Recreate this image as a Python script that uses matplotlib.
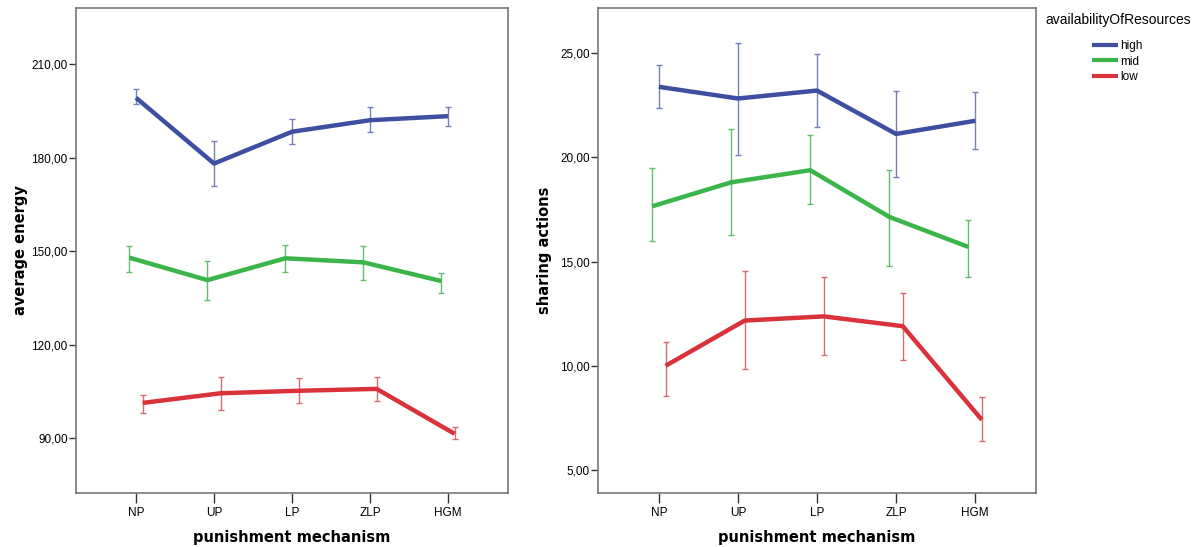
import matplotlib

matplotlib.use("Agg", force=True)
import matplotlib.pyplot as plt
from matplotlib.ticker import FuncFormatter

mechanisms = ["NP", "UP", "LP", "ZLP", "HGM"]
levels = ["high", "mid", "low"]

# average energy (left panel): mean, upper error, lower error
energy_high = [199.2, 178.1, 188.3, 192.0, 193.3]
energy_high_hi = [201.9, 185.3, 192.4, 196.1, 196.3]
energy_high_lo = [197.1, 170.9, 184.3, 188.1, 190.2]
energy_mid = [147.9, 140.7, 147.7, 146.4, 140.4]
energy_mid_hi = [151.6, 146.9, 151.9, 151.7, 142.9]
energy_mid_lo = [143.4, 134.3, 143.3, 140.7, 136.7]
energy_low = [101.3, 104.4, 105.2, 105.8, 91.4]
energy_low_hi = [103.8, 109.7, 109.2, 109.6, 93.7]
energy_low_lo = [98.2, 99.0, 101.2, 102.0, 89.7]

# sharing actions (right panel)
share_high = [23.38, 22.82, 23.20, 21.12, 21.75]
share_high_hi = [24.41, 25.50, 24.96, 23.19, 23.14]
share_high_lo = [22.35, 20.11, 21.44, 19.07, 20.40]
share_mid = [17.65, 18.80, 19.38, 17.14, 15.70]
share_mid_hi = [19.49, 21.38, 21.06, 19.41, 16.98]
share_mid_lo = [16.00, 16.26, 17.74, 14.77, 14.24]
share_low = [10.00, 12.17, 12.37, 11.90, 7.41]
share_low_hi = [11.13, 14.53, 14.26, 13.50, 8.49]
share_low_lo = [8.53, 9.87, 10.54, 10.29, 6.40]

LINE_COLORS = {"high": "#3E4FA2", "mid": "#3BB44A", "low": "#D9323B"}
ERR_COLORS = {"high": "#7480B4", "mid": "#62BD6E", "low": "#D56B73"}
DODGE = {"high": 0.0, "mid": -0.085, "low": 0.085}
FRAME = "#777777"

plt.rcParams["font.family"] = ["Liberation Sans", "DejaVu Sans"]


def comma_fmt(value, _pos):
    return f"{value:.2f}".replace(".", ",")


def draw_panel(ax, series, ylim, yticks, ylabel, label_x):
    xs = list(range(len(mechanisms)))
    for level in levels:
        mean, hi, lo = series[level]
        pos = [x + DODGE[level] for x in xs]
        yerr = [[m - l for m, l in zip(mean, lo)], [h - m for m, h in zip(mean, hi)]]
        ax.errorbar(pos, mean, yerr=yerr, fmt="none", ecolor=ERR_COLORS[level],
                    elinewidth=1.0, capsize=2.5, capthick=1.0, zorder=2)
        ax.plot(pos, mean, color=LINE_COLORS[level], linewidth=3.2,
                solid_capstyle="butt", label=level, zorder=3)
    ax.set_xlim(-0.77, 4.77)
    ax.set_ylim(*ylim)
    ax.set_xticks(xs)
    ax.set_xticklabels(mechanisms, fontsize=8.5)
    ax.set_yticks(yticks)
    ax.yaxis.set_major_formatter(FuncFormatter(comma_fmt))
    ax.tick_params(axis="y", labelsize=8.5, length=5, width=1.0, color="#333333", pad=1)
    ax.tick_params(axis="x", length=7, width=1.0, color="#333333", pad=3)
    for spine in ax.spines.values():
        spine.set_color(FRAME)
        spine.set_linewidth(1.2)
    ax.set_xlabel("punishment mechanism", fontsize=10.5, fontweight="bold",
                  family="DejaVu Sans", labelpad=8)
    ax.set_ylabel(ylabel, fontsize=10.5, fontweight="bold", family="DejaVu Sans")
    ax.yaxis.set_label_coords(label_x, 0.5)


fig = plt.figure(figsize=(12.01, 5.47), dpi=100)
ax_left = fig.add_axes([76 / 1201, 54 / 547, 432 / 1201, 485 / 547])
ax_right = fig.add_axes([598 / 1201, 54 / 547, 438 / 1201, 485 / 547])

energy = {
    "high": (energy_high, energy_high_hi, energy_high_lo),
    "mid": (energy_mid, energy_mid_hi, energy_mid_lo),
    "low": (energy_low, energy_low_hi, energy_low_lo),
}
sharing = {
    "high": (share_high, share_high_hi, share_high_lo),
    "mid": (share_mid, share_mid_hi, share_mid_lo),
    "low": (share_low, share_low_hi, share_low_lo),
}

draw_panel(ax_left, energy, (72.4, 228.0), [90, 120, 150, 180, 210],
           "average energy", -0.11)
draw_panel(ax_right, sharing, (3.9, 27.16), [5, 10, 15, 20, 25],
           "sharing actions", -0.105)

# legend title drawn separately so the gap to the entries matches
fig.text(1118 / 1201, 1 - 20 / 547, "availabilityOfResources", fontsize=10,
         ha="center", va="center")
handles, labels = ax_right.get_legend_handles_labels()
leg = fig.legend(handles, labels, loc="upper left",
                 bbox_to_anchor=(1092 / 1201, 1 - 40 / 547),
                 frameon=False, fontsize=8.5, handlelength=2.2,
                 handletextpad=0.2, labelspacing=0.3, borderpad=0.0,
                 borderaxespad=0.0)
for line in leg.get_lines():
    line.set_linewidth(3.0)

fig.savefig("out.png", dpi=100)
